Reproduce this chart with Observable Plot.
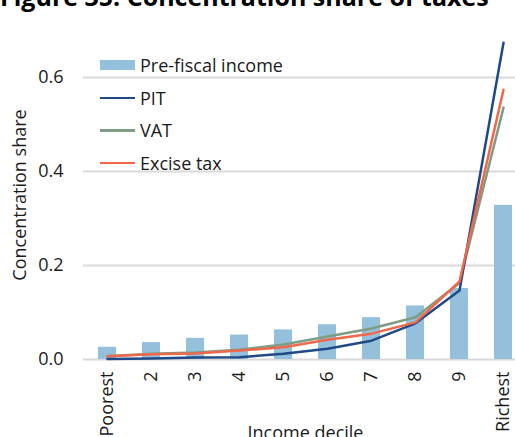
<!DOCTYPE html>
<html><head><meta charset="utf-8">
<script src="https://cdn.jsdelivr.net/npm/d3@7"></script>
<script src="https://cdn.jsdelivr.net/npm/@observablehq/plot@0.6"></script>
<style>
html,body{margin:0;padding:0;overflow:hidden;background:#fff;}
#wrap{position:relative;width:515px;height:437px;overflow:hidden;font-family:"Open Sans",sans-serif;}
#title{position:absolute;left:0;top:-16px;font-weight:bold;font-size:25px;line-height:25px;white-space:nowrap;color:#000;}
#chart{position:absolute;left:0;top:0;}
#legend{position:absolute;left:100px;top:49px;font-size:18px;color:#1a1a1a;}
.row{display:flex;align-items:center;height:32.5px;white-space:nowrap;}
.sw{width:35px;margin-right:5px;}
</style>
</head><body>
<div id="wrap">
<div id="chart"></div>
<div id="title">Figure 35. Concentration share of taxes</div>
<div id="legend"></div>
</div>
<script>
const deciles = ["Poorest","2","3","4","5","6","7","8","9","Richest"];
const preFiscal = [0.026,0.036,0.045,0.052,0.063,0.074,0.089,0.114,0.151,0.328];
const pit = [0.001,0.002,0.004,0.005,0.012,0.023,0.040,0.077,0.147,0.674];
const vat = [0.007,0.012,0.015,0.021,0.032,0.049,0.066,0.090,0.163,0.536];
const excise = [0.007,0.011,0.013,0.019,0.026,0.042,0.055,0.079,0.166,0.574];
const yTicks = [0,0.2,0.4,0.6];
const seriesNames = ["Pre-fiscal income","PIT","VAT","Excise tax"];
const colors = {bar:"#94c0dc", pit:"#1f4a87", vat:"#7e9c86", excise:"#f0674a"};

const data = deciles.map((d,i)=>({decile:d, pre:preFiscal[i], pit:pit[i], vat:vat[i], excise:excise[i]}));

const chart = Plot.plot({
  width:515, height:437,
  marginLeft:83, marginRight:-12, marginTop:30, marginBottom:78,
  style:{fontFamily:'"Open Sans", sans-serif', fontSize:"18px", color:"#1a1a1a", background:"transparent", overflow:"hidden"},
  x:{domain:deciles, paddingInner:0.6, paddingOuter:0.3},
  y:{domain:[0,0.7]},
  marks:[
    Plot.gridY(yTicks,{stroke:"#d9d9d9", strokeOpacity:1, strokeWidth:2}),
    Plot.barY(data,{x:"decile", y:"pre", fill:colors.bar}),
    Plot.lineY(data,{x:"decile", y:"vat", stroke:colors.vat, strokeWidth:2.5}),
    Plot.lineY(data,{x:"decile", y:"pit", stroke:colors.pit, strokeWidth:2.5}),
    Plot.lineY(data,{x:"decile", y:"excise", stroke:colors.excise, strokeWidth:2.5}),
    Plot.axisX({tickSize:0, tickPadding:12, tickRotate:-90, label:"Income decile", labelAnchor:"center", labelArrow:"none", labelOffset:79}),
    Plot.axisY(yTicks,{tickSize:0, tickPadding:20, tickFormat:d3.format(".1f"), label:"Concentration share", labelAnchor:"center", labelArrow:"none", labelOffset:70})
  ]
});
document.getElementById("chart").appendChild(chart);

const legend = document.getElementById("legend");
const sw = [
  `<div class="sw" style="height:10px;background:${colors.bar}"></div>`,
  `<div class="sw" style="height:2.5px;background:${colors.pit}"></div>`,
  `<div class="sw" style="height:2.5px;background:${colors.vat}"></div>`,
  `<div class="sw" style="height:2.5px;background:${colors.excise}"></div>`
];
seriesNames.forEach((n,i)=>{
  const r = document.createElement("div");
  r.className = "row";
  r.innerHTML = sw[i] + `<span>${n}</span>`;
  legend.appendChild(r);
});
</script>
</body></html>
